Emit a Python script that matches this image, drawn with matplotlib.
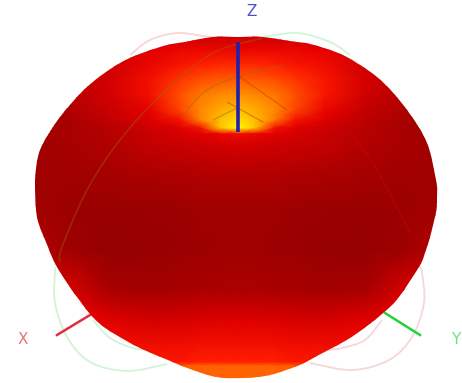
import matplotlib
matplotlib.use('Agg')
import matplotlib.pyplot as plt
import numpy as np
from matplotlib.colors import LinearSegmentedColormap
from matplotlib.patches import PathPatch
from matplotlib.path import Path

# silhouette of the lobe, clockwise from top centre (image pixels)
outline_x = [238, 263, 297, 310, 343, 377, 407, 427, 436, 437, 435, 427, 419, 399, 382,
             350, 317, 297, 270, 243, 217, 190, 163, 130, 100, 80, 57, 48, 37, 35, 40,
             60, 87, 120, 160, 190, 213]
outline_y = [37, 37, 42, 44, 55, 77, 110, 143, 180, 198, 217, 247, 267, 297, 314,
             338, 356, 366, 375, 378, 377, 369, 358, 343, 324, 301, 267, 247, 217, 180, 150,
             117, 87, 63, 47, 41, 37]

grid_x = [30, 70, 110, 150, 180, 200, 220, 238, 255, 275, 295, 325, 365, 405, 440]
grid_y = [35, 50, 65, 80, 95, 110, 120, 128, 134, 145, 175, 210, 250, 290, 320, 345, 362, 366, 380]
heat = [
    [.22, .24, .26, .28, .28, .28, .28, .28, .28, .28, .28, .28, .26, .24, .22],
    [.18, .22, .30, .38, .42, .42, .42, .42, .42, .42, .42, .40, .32, .22, .18],
    [.15, .20, .30, .42, .47, .50, .52, .52, .52, .50, .47, .44, .30, .20, .15],
    [.15, .20, .33, .45, .55, .60, .62, .63, .62, .60, .55, .47, .33, .20, .15],
    [.12, .20, .32, .45, .60, .68, .72, .74, .72, .68, .60, .47, .30, .18, .12],
    [.10, .16, .28, .40, .58, .72, .80, .85, .80, .72, .58, .42, .25, .15, .10],
    [.08, .14, .24, .36, .46, .70, .85, .92, .85, .68, .46, .36, .22, .13, .08],
    [.08, .12, .20, .30, .38, .45, .85, 1.0, .85, .45, .38, .30, .20, .12, .08],
    [.08, .12, .19, .28, .33, .38, .42, .44, .42, .38, .33, .28, .19, .12, .08],
    [.08, .12, .17, .25, .28, .30, .32, .33, .32, .30, .28, .25, .17, .12, .08],
    [.08, .08, .11, .14, .16, .17, .17, .17, .17, .17, .16, .14, .11, .08, .08],
    [.10, .06, .05, .06, .07, .08, .08, .08, .08, .08, .07, .06, .05, .06, .10],
    [.20, .08, .03, .04, .06, .07, .08, .08, .08, .07, .06, .04, .03, .08, .20],
    [.36, .34, .12, .10, .12, .13, .14, .14, .14, .13, .12, .10, .12, .34, .36],
    [.42, .42, .38, .32, .33, .35, .36, .36, .36, .35, .33, .32, .38, .42, .42],
    [.45, .45, .44, .44, .44, .45, .45, .45, .45, .45, .44, .44, .44, .45, .45],
    [.47, .47, .47, .48, .48, .50, .50, .50, .50, .50, .48, .48, .47, .47, .47],
    [.48, .48, .48, .52, .62, .64, .64, .64, .64, .64, .62, .52, .48, .48, .48],
    [.60, .60, .60, .62, .64, .64, .64, .64, .64, .64, .64, .62, .60, .60, .60],
]

# wire circles of the pattern, behind and on the lobe
green_back = [
    ([56, 55, 55, 67, 90, 127, 167], [267, 273, 303, 337, 362, 371, 364]),
    ([93, 110, 133, 150], [320, 338, 348, 350]),
    ([263, 297, 330, 350], [37, 33, 42, 55]),
]
pink_back = [
    ([420, 422, 424, 412, 389, 352, 310], [267, 273, 303, 337, 360, 370, 363]),
    ([382, 365, 342, 325], [320, 340, 348, 350]),
    ([130, 150, 177, 203, 213], [55, 40, 33, 36, 37]),
]
olive_front = [
    ([60, 62, 87, 120, 163, 213, 263], [262, 247, 190, 140, 93, 53, 38]),
    ([183, 207, 243, 283], [115, 90, 75, 65]),
    ([213, 237], [120, 108]),
]
dark_front = [
    ([240, 287], [77, 110]),
    ([227, 263], [102, 122]),
]
light_front = [([353, 377, 410], [137, 170, 233])]

z_axis = ([238, 238], [42, 132])
x_axis = ([57, 90], [335, 315])
y_axis = ([385, 420], [313, 335])


def smooth_path(xs, ys, closed=False):
    # bezier through the read points, so the curve has no corners
    pts = np.column_stack([xs, ys]).astype(float)
    if closed:
        pts = np.vstack([pts[-1], pts, pts[0], pts[1]])
    else:
        pts = np.vstack([pts[0], pts, pts[-1]])
    verts = [pts[1]]
    codes = [Path.MOVETO]
    for i in range(1, len(pts) - 2):
        verts += [pts[i] + (pts[i + 1] - pts[i - 1]) / 6,
                  pts[i + 1] - (pts[i + 2] - pts[i]) / 6,
                  pts[i + 1]]
        codes += [Path.CURVE4] * 3
    return Path(verts, codes)


def draw_arcs(ax, arcs, color, lw, alpha, z):
    for xs, ys in arcs:
        ax.add_patch(PathPatch(smooth_path(xs, ys), fill=False, ec=color, lw=lw,
                               alpha=alpha, zorder=z))


fig = plt.figure(figsize=(4.62, 3.83), dpi=100)
ax = fig.add_axes([0, 0, 1, 1])
ax.set_xlim(0, 462)
ax.set_ylim(383, 0)
ax.axis('off')

cmap = LinearSegmentedColormap.from_list('lobe', [
    (0.0, '#900000'), (0.2, '#b80000'), (0.4, '#e60000'), (0.5, '#ff1e00'),
    (0.7, '#ff8000'), (0.85, '#ffc000'), (1.0, '#ffff00')])

draw_arcs(ax, green_back, '#d2f4d6', 1.3, 1, 1)
draw_arcs(ax, pink_back, '#f7d6d6', 1.3, 1, 1)

body = PathPatch(smooth_path(outline_x, outline_y, closed=True), fc='none', ec='none', zorder=2)
ax.add_patch(body)
mesh = ax.pcolormesh(grid_x, grid_y, np.array(heat), cmap=cmap, vmin=0, vmax=1,
                     shading='gouraud', zorder=2)
mesh.set_clip_path(body)

draw_arcs(ax, olive_front, '#a06a10', 1.1, 0.4, 3)
draw_arcs(ax, dark_front, '#c03000', 1.0, 0.4, 3)
draw_arcs(ax, light_front, '#d01000', 1.0, 0.35, 3)

ax.plot(*z_axis, color='#2020b0', lw=2.6, solid_capstyle='butt', zorder=4)
ax.plot(*x_axis, color='#e0303c', lw=1.8, zorder=1.5)
ax.plot(*y_axis, color='#28d040', lw=1.8, zorder=1.5)

ax.text(252, 12, 'Z', color='#5050c8', fontsize=11, ha='center', va='center')
ax.text(23, 339, 'X', color='#ee7080', fontsize=11, ha='center', va='center')
ax.text(456, 339, 'Y', color='#70e080', fontsize=11, ha='center', va='center')

fig.savefig('out.png', dpi=100)
